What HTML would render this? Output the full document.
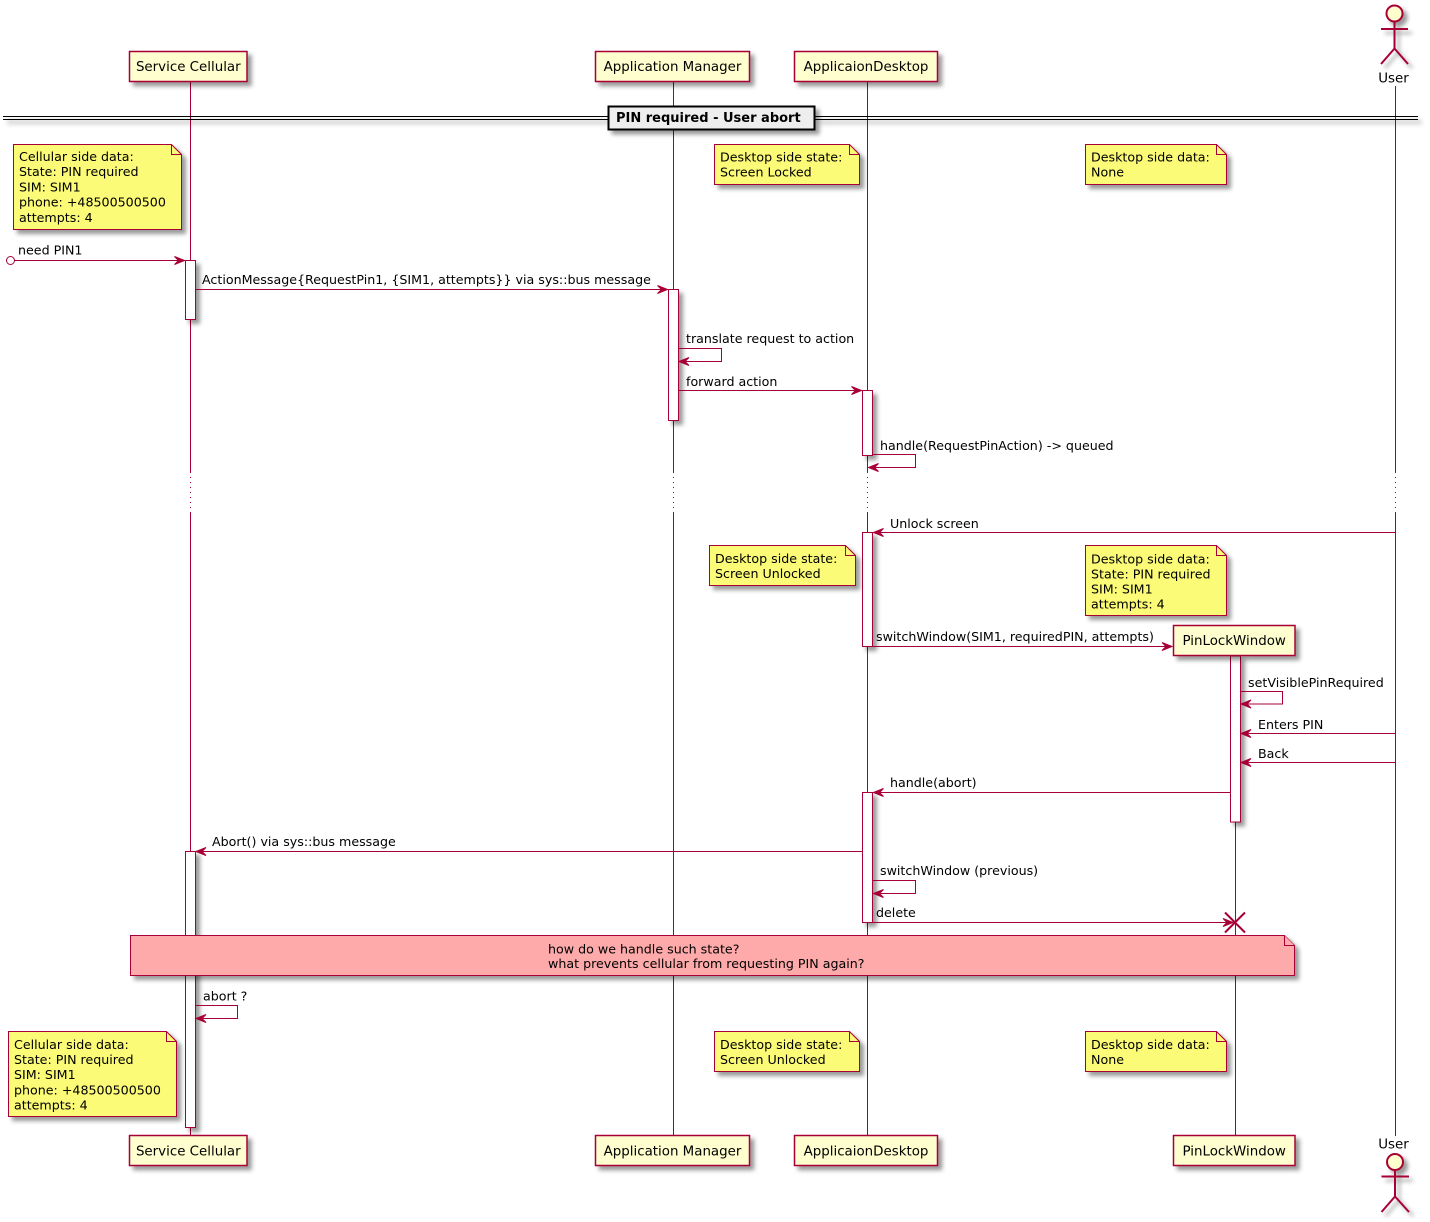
<!DOCTYPE html>
<html><head><meta charset="utf-8">
<style>
html,body{margin:0;padding:0;background:#fff;}
svg{display:block;}
text{font-family:"DejaVu Sans","Liberation Sans",sans-serif;fill:#000;}
.p{font-size:13.4px;}
.m{font-size:12.65px;}
.b{font-size:13px;font-weight:bold;}
</style></head><body>
<svg width="1430" height="1222" viewBox="0 0 1430 1222" xmlns="http://www.w3.org/2000/svg">
<defs>
<filter id="sh" x="-1" y="-1" width="300%" height="300%">
<feGaussianBlur in="SourceAlpha" result="b1" stdDeviation="2"/>
<feColorMatrix in="b1" result="b2" type="matrix" values="0 0 0 0 0 0 0 0 0 0 0 0 0 0 0 0 0 0 .4 0"/>
<feOffset in="b2" result="b3" dx="4" dy="4"/>
<feBlend in="SourceGraphic" in2="b3" mode="normal"/>
</filter>
</defs>
<rect width="1430" height="1222" fill="#fff"/>

<!-- lifelines -->
<g stroke="#A80036" stroke-width="1" fill="none">
<path d="M190.5,82 V472 M190.5,512 V1135"/>
<path d="M673.5,82 V472 M673.5,512 V1135"/>
<path d="M867.5,82 V472 M867.5,512 V1135"/>
<path d="M1395.5,86 V472 M1395.5,512 V1136"/>
<path d="M1235.5,656 V1135"/>
<path d="M190.5,472 V512 M673.5,472 V512 M867.5,472 V512 M1395.5,472 V512" stroke-dasharray="1,4"/>
</g>

<!-- activations -->
<g fill="#fff" stroke="#A80036" stroke-width="1" filter="url(#sh)">
<rect x="185.5" y="260.5" width="10" height="59"/>
<rect x="668.5" y="289.5" width="10" height="131"/>
<rect x="862.5" y="390.5" width="10" height="65"/>
<rect x="862.5" y="532.5" width="10" height="114"/>
<rect x="1230.5" y="656" width="10" height="166"/>
<rect x="862.5" y="792.5" width="10" height="130"/>
<rect x="185.5" y="851.5" width="10" height="276"/>
</g>

<!-- participants -->
<g fill="#FEFECE" stroke="#A80036" stroke-width="1.5" filter="url(#sh)">
<rect x="129.5" y="51.5" width="117.5" height="30"/>
<rect x="595.5" y="51.5" width="154" height="30"/>
<rect x="794.5" y="51.5" width="143" height="30"/>
<rect x="1173.5" y="625.5" width="121.5" height="30"/>
<rect x="129.5" y="1135.5" width="117.5" height="30"/>
<rect x="595.5" y="1135.5" width="154" height="30"/>
<rect x="794.5" y="1135.5" width="143" height="30"/>
<rect x="1173.5" y="1135.5" width="121.5" height="30"/>
</g>
<g text-anchor="middle">
<text class="p" x="188.3" y="71">Service Cellular</text>
<text class="p" x="672.5" y="71">Application Manager</text>
<text class="p" x="866" y="71">ApplicaionDesktop</text>
<text class="p" x="1234.2" y="645">PinLockWindow</text>
<text class="p" x="188.3" y="1155.5">Service Cellular</text>
<text class="p" x="672.5" y="1155.5">Application Manager</text>
<text class="p" x="866" y="1155.5">ApplicaionDesktop</text>
<text class="p" x="1234.2" y="1155.5">PinLockWindow</text>
<text class="p" x="1393.5" y="82.3">User</text>
<text class="p" x="1393.5" y="1148.5">User</text>
</g>

<!-- actors -->
<g stroke="#A80036" stroke-width="2" fill="none" filter="url(#sh)">
<circle cx="1394.5" cy="13.5" r="8" fill="#FEFECE"/>
<path d="M1394.5,21.5 V48.5 M1381,29 H1408 M1394.5,48.5 L1381,64 M1394.5,48.5 L1408,64"/>
<circle cx="1395" cy="1162" r="8" fill="#FEFECE"/>
<path d="M1395,1170 V1196.5 M1381.5,1176.5 H1409 M1395,1196.5 L1381.5,1212 M1395,1196.5 L1409,1212"/>
</g>

<!-- notes -->
<g stroke="#A80036" stroke-width="1" fill="#FBFB77">
<g filter="url(#sh)">
<path d="M13.5,144.5 L13.5,229.5 L181.5,229.5 L181.5,154.5 L171.5,144.5 Z"/>
<path d="M714.5,144.5 L714.5,184.5 L859.5,184.5 L859.5,154.5 L849.5,144.5 Z"/>
<path d="M1085.5,144.5 L1085.5,184.5 L1226.5,184.5 L1226.5,154.5 L1216.5,144.5 Z"/>
<path d="M709.5,545.5 L709.5,585.5 L855.5,585.5 L855.5,555.5 L845.5,545.5 Z"/>
<path d="M1085.5,545.5 L1085.5,615.5 L1226.5,615.5 L1226.5,555.5 L1216.5,545.5 Z"/>
<path d="M8.5,1031.5 L8.5,1116.5 L176.5,1116.5 L176.5,1041.5 L166.5,1031.5 Z"/>
<path d="M714.5,1031.5 L714.5,1071.5 L859.5,1071.5 L859.5,1041.5 L849.5,1031.5 Z"/>
<path d="M1085.5,1031.5 L1085.5,1071.5 L1226.5,1071.5 L1226.5,1041.5 L1216.5,1031.5 Z"/>
<path d="M130.5,935.5 L130.5,975.5 L1294.5,975.5 L1294.5,945.5 L1284.5,935.5 Z" fill="#FFAAAA"/>
</g>
<path d="M171.5,144.5 V154.5 H181.5 M849.5,144.5 V154.5 H859.5 M1216.5,144.5 V154.5 H1226.5 M845.5,545.5 V555.5 H855.5 M1216.5,545.5 V555.5 H1226.5 M166.5,1031.5 V1041.5 H176.5 M849.5,1031.5 V1041.5 H859.5 M1216.5,1031.5 V1041.5 H1226.5" fill="none"/>
<path d="M1284.5,935.5 V945.5 H1294.5" fill="#FFAAAA"/>
</g>
<g>
<text class="m" x="19" y="161">Cellular side data:</text>
<text class="m" x="19" y="176.2">State: PIN required</text>
<text class="m" x="19" y="191.4">SIM: SIM1</text>
<text class="m" x="19" y="206.6">phone: +48500500500</text>
<text class="m" x="19" y="221.8">attempts: 4</text>

<text class="m" x="720" y="161.5">Desktop side state:</text>
<text class="m" x="720" y="176.7">Screen Locked</text>
<text class="m" x="1091" y="161.5">Desktop side data:</text>
<text class="m" x="1091" y="176.7">None</text>

<text class="m" x="715" y="563">Desktop side state:</text>
<text class="m" x="715" y="578">Screen Unlocked</text>
<text class="m" x="1091" y="563.5">Desktop side data:</text>
<text class="m" x="1091" y="578.5">State: PIN required</text>
<text class="m" x="1091" y="593.5">SIM: SIM1</text>
<text class="m" x="1091" y="608.5">attempts: 4</text>

<text class="m" x="548" y="953.5">how do we handle such state?</text>
<text class="m" x="548" y="968">what prevents cellular from requesting PIN again?</text>

<text class="m" x="14" y="1048.8">Cellular side data:</text>
<text class="m" x="14" y="1064">State: PIN required</text>
<text class="m" x="14" y="1079.2">SIM: SIM1</text>
<text class="m" x="14" y="1094.4">phone: +48500500500</text>
<text class="m" x="14" y="1109.6">attempts: 4</text>

<text class="m" x="720" y="1048.8">Desktop side state:</text>
<text class="m" x="720" y="1064">Screen Unlocked</text>
<text class="m" x="1091" y="1048.8">Desktop side data:</text>
<text class="m" x="1091" y="1064">None</text>
</g>

<!-- messages -->
<g stroke="#A80036" stroke-width="1" fill="none">
<circle cx="10.5" cy="260.5" r="4"/>
<path d="M14.5,260.5 H184"/>
<path d="M195.5,289.5 H667"/>
<path d="M678.5,348.5 H721.5 V361.5 H679"/>
<path d="M678.5,390.5 H861.5"/>
<path d="M872.5,454.5 H915.5 V467.5 H868.5"/>
<path d="M1395.5,532.5 H873.5"/>
<path d="M872.5,646.5 H1172"/>
<path d="M1240.5,691.5 H1282.5 V704 H1241"/>
<path d="M1395.5,733.5 H1241"/>
<path d="M1395.5,762.5 H1241"/>
<path d="M1230.5,792.5 H873.5"/>
<path d="M862.5,851.5 H196"/>
<path d="M872.5,880.5 H915.5 V893.5 H873.5"/>
<path d="M872.5,922.5 H1233"/>
<path d="M195.5,1005.5 H237.5 V1018.5 H196"/>
<path d="M1225,912.5 L1245,932.5 M1225,932.5 L1245,912.5" stroke-width="2"/>
</g>
<g fill="#A80036" stroke="#A80036" stroke-width="1">
<polygon points="184.5,260.5 174.5,256.5 178.5,260.5 174.5,264.5"/>
<polygon points="667.5,289.5 657.5,285.5 661.5,289.5 657.5,293.5"/>
<polygon points="861.5,390.5 851.5,386.5 855.5,390.5 851.5,394.5"/>
<polygon points="1172,646.5 1162,642.5 1166,646.5 1162,650.5"/>
<polygon points="1233,922.5 1223,918.5 1227,922.5 1223,926.5"/>
<polygon points="679,361.5 689,357.5 685,361.5 689,365.5"/>
<polygon points="868.5,467.5 878.5,463.5 874.5,467.5 878.5,471.5"/>
<polygon points="873.5,532.5 883.5,528.5 879.5,532.5 883.5,536.5"/>
<polygon points="1241,704 1251,700 1247,704 1251,708"/>
<polygon points="1241,733.5 1251,729.5 1247,733.5 1251,737.5"/>
<polygon points="1241,762.5 1251,758.5 1247,762.5 1251,766.5"/>
<polygon points="873.5,792.5 883.5,788.5 879.5,792.5 883.5,796.5"/>
<polygon points="196,851.5 206,847.5 202,851.5 206,855.5"/>
<polygon points="873.5,893.5 883.5,889.5 879.5,893.5 883.5,897.5"/>
<polygon points="196,1018.5 206,1014.5 202,1018.5 206,1022.5"/>
</g>
<g>
<text class="m" x="18" y="254.5">need PIN1</text>
<text class="m" x="202" y="284">ActionMessage{RequestPin1, {SIM1, attempts}} via sys::bus message</text>
<text class="m" x="686" y="343">translate request to action</text>
<text class="m" x="686" y="386">forward action</text>
<text class="m" x="880" y="450">handle(RequestPinAction) -&gt; queued</text>
<text class="m" x="890" y="528">Unlock screen</text>
<text class="m" x="876" y="641">switchWindow(SIM1, requiredPIN, attempts)</text>
<text class="m" x="1248" y="687">setVisiblePinRequired</text>
<text class="m" x="1258" y="729">Enters PIN</text>
<text class="m" x="1258" y="758">Back</text>
<text class="m" x="890" y="787">handle(abort)</text>
<text class="m" x="212" y="846">Abort() via sys::bus message</text>
<text class="m" x="880" y="875">switchWindow (previous)</text>
<text class="m" x="876" y="917">delete</text>
<text class="m" x="203" y="1000.5">abort ?</text>
</g>

<!-- divider -->
<g filter="url(#sh)">
<path d="M3,116.5 H1418 M3,119.5 H1418" stroke="#000" stroke-width="1" fill="none"/>
<rect x="608.5" y="106.5" width="206" height="23" fill="#EEEEEE" stroke="#000" stroke-width="2"/>
</g>
<text class="b" x="616" y="122">PIN required - User abort</text>
</svg>
</body></html>
